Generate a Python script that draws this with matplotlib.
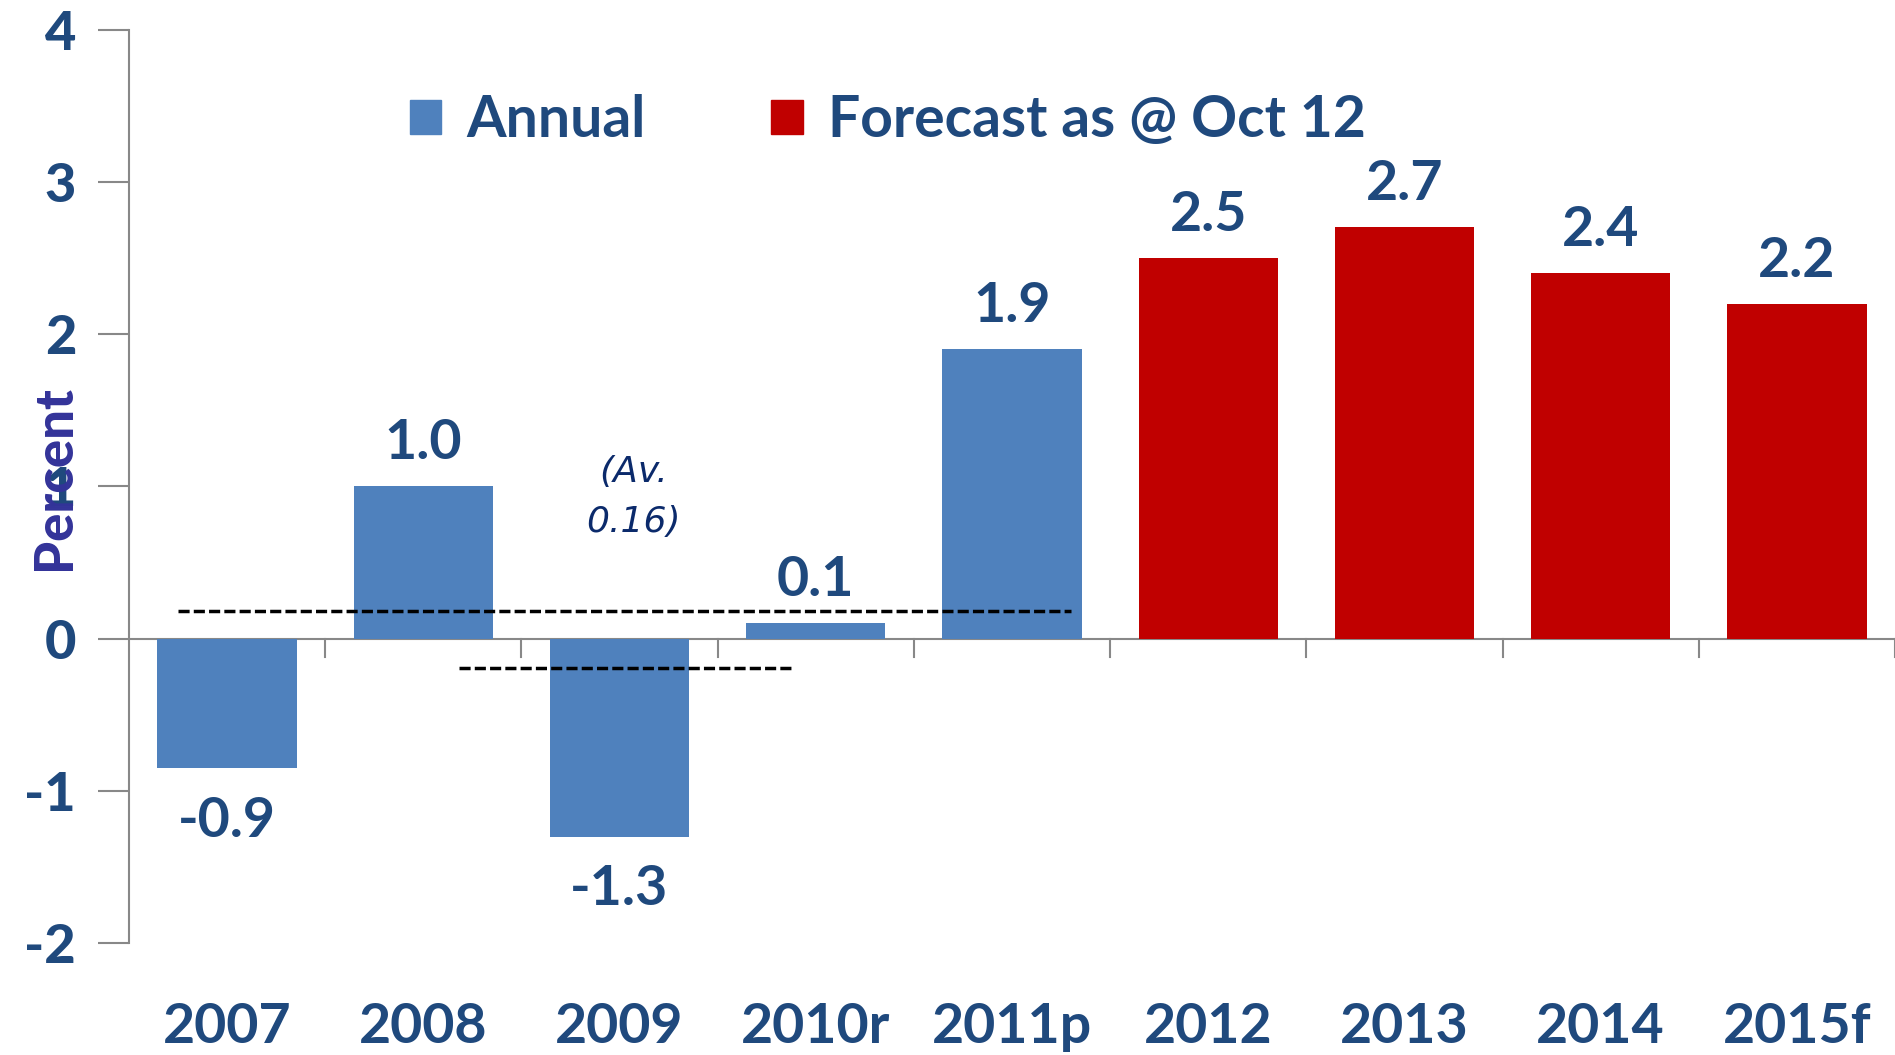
import matplotlib.pyplot as plt
from matplotlib.patches import Patch

years = ["2007", "2008", "2009", "2010r", "2011p", "2012", "2013", "2014", "2015f"]
growth = [-0.85, 1.0, -1.3, 0.1, 1.9, 2.5, 2.7, 2.4, 2.2]
labels = ["-0.9", "1.0", "-1.3", "0.1", "1.9", "2.5", "2.7", "2.4", "2.2"]
is_forecast = [False, False, False, False, False, True, True, True, True]

# dashed average lines: (y, x start, x end) in data units
avg_lines = [(0.18, -0.25, 4.30), (-0.19, 1.18, 2.88)]

blue = "#4F81BD"
red = "#C00000"
navy = "#1F497D"

plt.rcParams['font.family'] = ['Lato', 'DejaVu Sans']

fig = plt.figure(figsize=(18.95, 10.55), dpi=100)
ax = fig.add_axes([0.068, 0.106, 0.932, 0.866])

x = list(range(len(years)))
colors = [red if f else blue for f in is_forecast]
ax.bar(x, growth, width=0.71, color=colors, zorder=2)

for xi, v, lab in zip(x, growth, labels):
    if v >= 0:
        ax.annotate(lab, (xi, v), xytext=(0, 13), textcoords="offset points",
                    ha="center", va="bottom", fontsize=40, fontweight="bold", color=navy)
    else:
        ax.annotate(lab, (xi, v), xytext=(0, -20), textcoords="offset points",
                    ha="center", va="top", fontsize=40, fontweight="bold", color=navy)

for y, x0, x1 in avg_lines:
    ax.plot([x0, x1], [y, y], color="black", lw=2.5, ls=(0, (3.2, 1.2)), zorder=3)

ax.text(2.07, 0.93, "(Av.\n0.16)", ha="center", va="center", fontsize=26,
        style="italic", color="#0B2A6B", family="DejaVu Sans", linespacing=1.6)

ax.set_xlim(-0.5, len(years) - 0.5)
ax.set_ylim(-2, 4)
ax.set_yticks([-2, -1, 0, 1, 2, 3, 4])
ax.set_yticklabels(["-2", "-1", "0", "1", "2", "3", "4"])

for s in ["top", "right", "bottom"]:
    ax.spines[s].set_visible(False)
ax.spines["left"].set_color("#888888")
ax.spines["left"].set_linewidth(1.5)
ax.axhline(0, color="#888888", lw=1.5, zorder=1)

# category labels along the bottom, tick marks at category boundaries on the zero line
ax.set_xticks([])
for xi, yr in zip(x, years):
    ax.text(xi, -2.55, yr, ha="center", va="center", fontsize=40, fontweight="bold", color=navy)
for b in range(1, len(years) + 1):
    ax.plot([b - 0.5, b - 0.5], [0, -0.12], color="#888888", lw=1.5, clip_on=False)

ax.tick_params(axis="y", length=22, width=1.5, color="#888888", pad=16,
               labelsize=39, labelcolor=navy)
for t in ax.get_yticklabels():
    t.set_fontweight("black")

# the reference has the axis title sitting over the "1" tick label
ax.set_ylabel("Percent", fontsize=38, fontweight="black", color="#333399")
ax.yaxis.set_label_coords(-0.028, 0.51)

handles = [Patch(color=blue, label="Annual"), Patch(color=red, label="Forecast as @ Oct 12")]
leg = ax.legend(handles=handles, loc="center left", bbox_to_anchor=(0.13, 0.9), ncol=2,
                frameon=False, fontsize=41, handlelength=0.55, handleheight=0.55,
                handletextpad=0.45, columnspacing=2.2)
for t in leg.get_texts():
    t.set_color(navy)
    t.set_fontweight("bold")

fig.savefig("out.png", dpi=100)
